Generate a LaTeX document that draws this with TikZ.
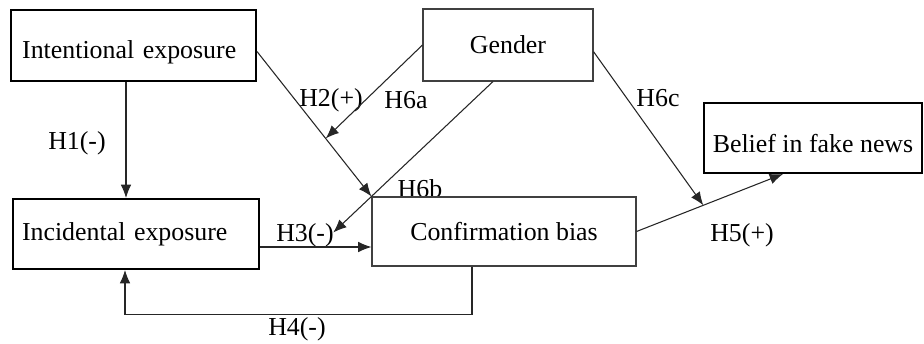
\documentclass[tikz,border=0pt]{standalone}
\usepackage{fontspec}
\setmainfont{Liberation Serif}
\usetikzlibrary{positioning,calc,arrows.meta}

\begin{document}
\begin{tikzpicture}[x=0.75pt,y=-0.75pt,
	every node/.style={font=\fontsize{19.4}{23}\selectfont},
	thickbox/.style={draw=black,line width=1.5pt,inner sep=0pt},
	thinbox/.style={draw=black!75,line width=0.8pt,inner sep=0pt},
	link/.style={draw=black!85,line width=0.8pt,-{Latex[length=10pt,width=8pt]}},
	hyp/.style={inner sep=0pt}]
		\useasboundingbox (0,0) rectangle (924,343);

		\node[thickbox,minimum width=183.75pt,minimum height=53.25pt,text width=167pt,align=left,text height=24pt,text depth=5.2pt] (ie) at (133.5,45.5) {Intentional exposure};
		\node[thinbox,minimum width=127.5pt,minimum height=54pt] (gen) at (508,45) {Gender};
		\node[thickbox,minimum width=163.5pt,minimum height=52.5pt,text height=21pt,text depth=0pt] (bel) at (813,138) {Belief in fake news};
		\node[thickbox,minimum width=184.5pt,minimum height=52.5pt,text width=171pt,align=left] (ib) at (136,234) {Incidental exposure};
		\node[hyp] (l6b) at (420,189) {H6b};
		\node[thinbox,fill=white,minimum width=198pt,minimum height=51.75pt] (cb) at (504,231.5) {Confirmation bias};

		\node[hyp] (l1) at (77,143) {H1(-)};
		\node[hyp] (l2) at (331,100) {H2(+)};
		\node[hyp] (l6a) at (406,100) {H6a};
		\node[hyp] (l3) at (305,235) {H3(-)};
		\node[hyp] (l4) at (297,329) {H4(-)};
		\node[hyp] (l5) at (742,235) {H5(+)};
		\node[hyp] (l6c) at (658,98) {H6c};

		% direct paths
		\coordinate (h1) at ($(ie.south)+(-7.5,0)$);
		\draw[link] (h1) -- (h1 |- ib.north);
		\draw[link] ([yshift=-4.5pt]ie.east) -- coordinate[pos=0.6] (m2) (cb.north west);
		\coordinate (h3) at ($(ib.east)+(0,13)$);
		\draw[link] (h3) -- coordinate[pos=0.52] (m3) (h3 -| cb.west);
		\draw[link] ($(cb.south)+(-32,0)$) -- ++(0,48) -| ($(ib.south)+(-11,0)$);
		\draw[link] (cb.east) -- coordinate[pos=0.456] (m5) ($(bel.south)+(-30,0)$);

		% moderation by gender
		\draw[link] (gen.west) -- (m2);
		\draw[link,shorten >=15.75pt] ([xshift=-11.25pt]gen.south) -- (m3);
		\draw[link] ([yshift=-5pt]gen.east) -- (m5);
	\end{tikzpicture}
\end{document}
